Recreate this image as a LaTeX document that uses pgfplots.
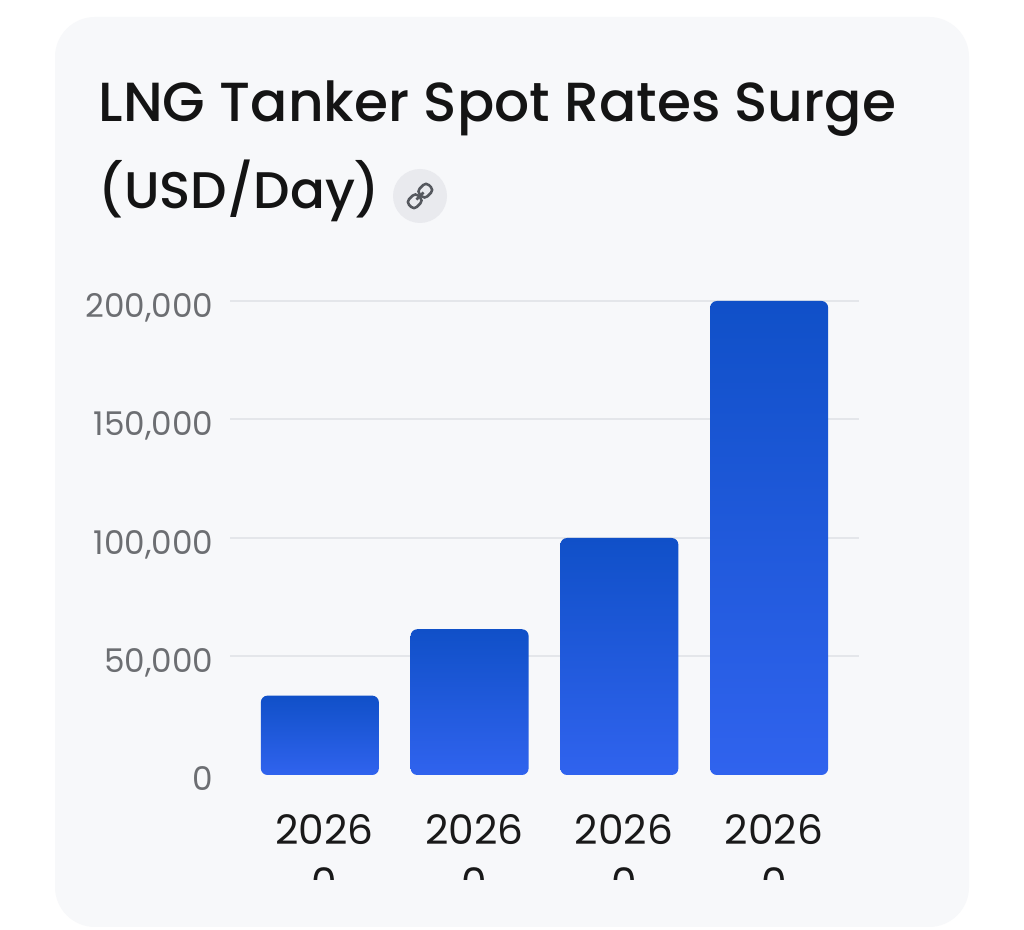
\documentclass[border=0pt]{standalone}
\usepackage{fontspec}
\usepackage{pgfplots}
\pgfplotsset{compat=1.18}
\setmainfont{Poppins}
\newfontfamily\titlefont{Poppins Medium}
\definecolor{panel}{HTML}{F7F8FA}
\definecolor{gridc}{HTML}{E4E6EA}
\definecolor{ticktxt}{HTML}{6C6E72}
\definecolor{bartop}{HTML}{1050C8}
\definecolor{barbot}{HTML}{3063EE}
\definecolor{iconbg}{HTML}{E9EAEE}
\definecolor{iconfg}{HTML}{55585E}
\begin{document}
\begin{tikzpicture}[x=0.75pt,y=0.75pt]
\path[use as bounding box,fill=white] (0,0) rectangle (1024,930);
\fill[panel,rounded corners=30pt] (55,3) rectangle (969,913);
\node[anchor=base west,inner sep=0pt,font=\titlefont\fontsize{41.3}{42}\selectfont,text=black!92] at (98.5,808) {LNG Tanker Spot Rates Surge};
\node[anchor=base west,inner sep=0pt,font=\titlefont\fontsize{38.6}{42}\selectfont,text=black!92] at (98.5,721) {(USD/Day)};
\fill[iconbg] (420,734) circle (27);
\begin{scope}[shift={(420,734)},rotate=45,iconfg,line width=1.9pt]
\draw[rounded corners=3pt] (-1,-5.5) rectangle (-14,5.5);
\draw[rounded corners=3pt] (1,-5.5) rectangle (14,5.5);
\draw (-5,0) -- (5,0);
\end{scope}
\begin{scope}
\clip (0,50) rectangle (1024,930);
\begin{axis}[
  at={(172.5pt,116.25pt)},anchor=south west,
  scale only axis,width=471.75pt,height=355.5pt,
  xmin=-0.6,xmax=3.6,ymin=0,ymax=200000,
  axis line style={draw=none},
  major tick length=0pt,
  clip=false,
  scaled y ticks=false,
  ytick={50000,100000,150000,200000},
  yticklabels={{50,000},{100,000},{150,000},{200,000}},
  extra y ticks={0},
  extra y tick labels={0},
  extra y tick style={grid=none,yticklabel style={yshift=2pt}},
  ymajorgrids,
  grid style={gridc,line width=1.5pt},
  yticklabel style={font=\fontsize{24.5}{24.5}\selectfont,text=ticktxt,anchor=east,xshift=-9pt,yshift=-5pt},
  xtick={0,1,2,3},
  xticklabels={{2026\\0},{2026\\0},{2026\\0},{2026\\0}},
  xticklabel style={font=\fontsize{30.5}{39.5}\selectfont,text=black!90,align=center,anchor=north,xshift=3.5pt,yshift=-26pt},
  bar width=88.5pt,
]
\addplot[ybar,bar shift=0pt,draw=none,top color=bartop,bottom color=barbot,rounded corners=5pt] coordinates {(0,33500)};
\addplot[ybar,bar shift=0pt,draw=none,top color=bartop,bottom color=barbot,rounded corners=5pt] coordinates {(1,61500)};
\addplot[ybar,bar shift=0pt,draw=none,top color=bartop,bottom color=barbot,rounded corners=5pt] coordinates {(2,100000)};
\addplot[ybar,bar shift=0pt,draw=none,top color=bartop,bottom color=barbot,rounded corners=5pt] coordinates {(3,200000)};
\end{axis}
\end{scope}
\end{tikzpicture}
\end{document}
